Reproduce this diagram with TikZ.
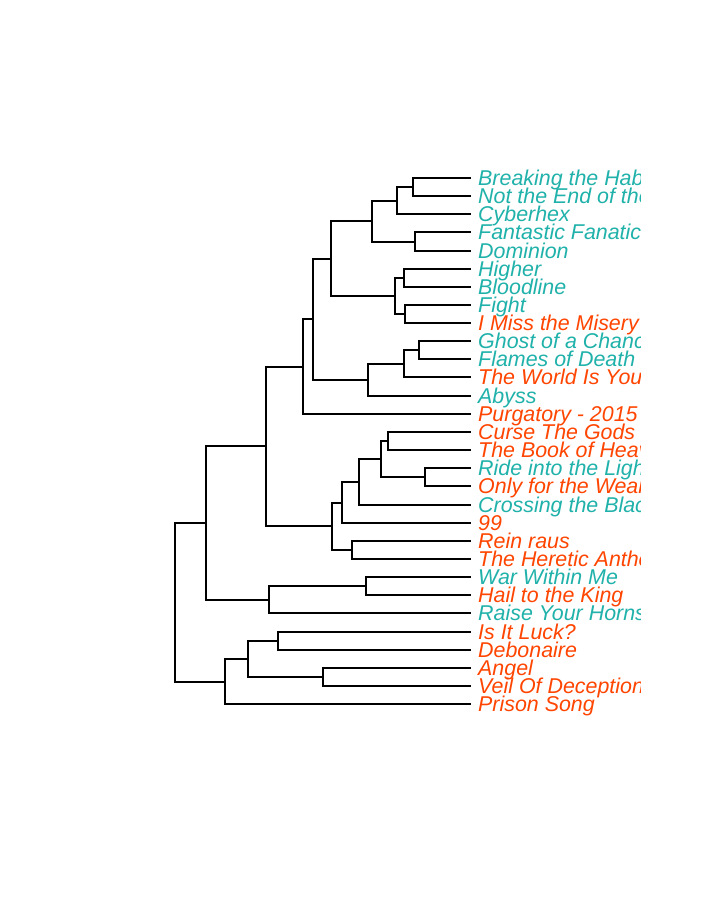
\documentclass[tikz,border=0pt]{standalone}
\usepackage{fontspec}
\setmainfont{Liberation Sans}
\definecolor{teal2}{HTML}{20B2AA}
\definecolor{orng}{HTML}{FF4500}
\begin{document}
\begin{tikzpicture}[x=1pt,y=-1pt,
  br/.style={draw=black,line width=2pt,line cap=rect},
  lab/.style={anchor=base west,inner sep=0pt,font=\fontsize{21.4}{21.4}\selectfont\itshape},
  tl/.style={lab,text=teal2},
  ol/.style={lab,text=orng}]
\useasboundingbox[fill=white] (0,0) rectangle (720,921);
% leaf end points
\foreach \i/\y in {0/178,1/196,2/214,3/232,4/251,5/269,6/287,7/305,8/323,9/341,10/359,11/377,12/396,13/414,14/432,15/450,16/468,17/486,18/505,19/523,20/541,21/559,22/577,23/595,24/613,25/632,26/650,27/668,28/686,29/704}
  {\coordinate (L\i) at (470,\y);}
% internal merges
\coordinate (a01) at (413,187);
\coordinate (a012) at (397,200.5);
\coordinate (a34) at (415,241.5);
\coordinate (a04) at (372,221);
\coordinate (a56) at (404,278);
\coordinate (a78) at (405,314);
\coordinate (a58) at (395,296);
\coordinate (a08) at (331,258.5);
\coordinate (a910) at (419,350);
\coordinate (a911) at (404,363.5);
\coordinate (a912) at (368,379.75);
\coordinate (a012b) at (313,319);
\coordinate (a013) at (303,366.5);
\coordinate (b1415) at (388,441);
\coordinate (b1617) at (425,477);
\coordinate (b1417) at (381,459);
\coordinate (b1418) at (359,482);
\coordinate (b1419) at (342,502.5);
\coordinate (b2021) at (352,550);
\coordinate (b1421) at (332,526);
\coordinate (c021) at (266,446);
\coordinate (c2223) at (366,586);
\coordinate (c2224) at (269,599.5);
\coordinate (c024) at (206,522.75);
\coordinate (d2526) at (278,641);
\coordinate (d2728) at (323,677);
\coordinate (d2528) at (248,659);
\coordinate (d2529) at (225,681.5);
\coordinate (root) at (175,602);
% branches
\foreach \p/\c in {a01/L0,a01/L1,a012/a01,a012/L2,a34/L3,a34/L4,a04/a012,a04/a34,
  a56/L5,a56/L6,a78/L7,a78/L8,a58/a56,a58/a78,a08/a04,a08/a58,
  a910/L9,a910/L10,a911/a910,a911/L11,a912/a911,a912/L12,a012b/a08,a012b/a912,
  a013/a012b,a013/L13,
  b1415/L14,b1415/L15,b1617/L16,b1617/L17,b1417/b1415,b1417/b1617,b1418/b1417,b1418/L18,
  b1419/b1418,b1419/L19,b2021/L20,b2021/L21,b1421/b1419,b1421/b2021,
  c021/a013,c021/b1421,c2223/L22,c2223/L23,c2224/c2223,c2224/L24,c024/c021,c024/c2224,
  d2526/L25,d2526/L26,d2728/L27,d2728/L28,d2528/d2526,d2528/d2728,d2529/d2528,d2529/L29,
  root/c024,root/d2529}
  {\draw[br] (\p) |- (\c);}
% labels
\begin{scope}
\clip (0,0) rectangle (640,921);
\foreach \i/\y/\s/\t in {
  0/178/tl/Breaking the Habit,
  1/196/tl/Not the End of the World,
  2/214/tl/Cyberhex,
  3/232/tl/Fantastic Fanatic,
  4/251/tl/Dominion,
  5/269/tl/Higher,
  6/287/tl/Bloodline,
  7/305/tl/Fight,
  8/323/ol/I Miss the Misery,
  9/341/tl/Ghost of a Chance,
  10/359/tl/Flames of Death,
  11/377/ol/The World Is Yours,
  12/396/tl/Abyss,
  13/414/ol/Purgatory - 2015,
  14/432/ol/Curse The Gods,
  15/450/ol/The Book of Heavy Metal,
  16/468/tl/Ride into the Light,
  17/486/ol/Only for the Weak,
  18/505/tl/Crossing the Black,
  19/523/ol/99,
  20/541/ol/Rein raus,
  21/559/ol/The Heretic Anthem,
  22/577/tl/War Within Me,
  23/595/ol/Hail to the King,
  24/613/tl/Raise Your Horns,
  25/632/ol/Is It Luck?,
  26/650/ol/Debonaire,
  27/668/ol/Angel,
  28/686/ol/Veil Of Deception,
  29/704/ol/Prison Song}
  {\node[\s] (T\i) at (478,\y+7.5) {\t};}
\end{scope}
\end{tikzpicture}
\end{document}
